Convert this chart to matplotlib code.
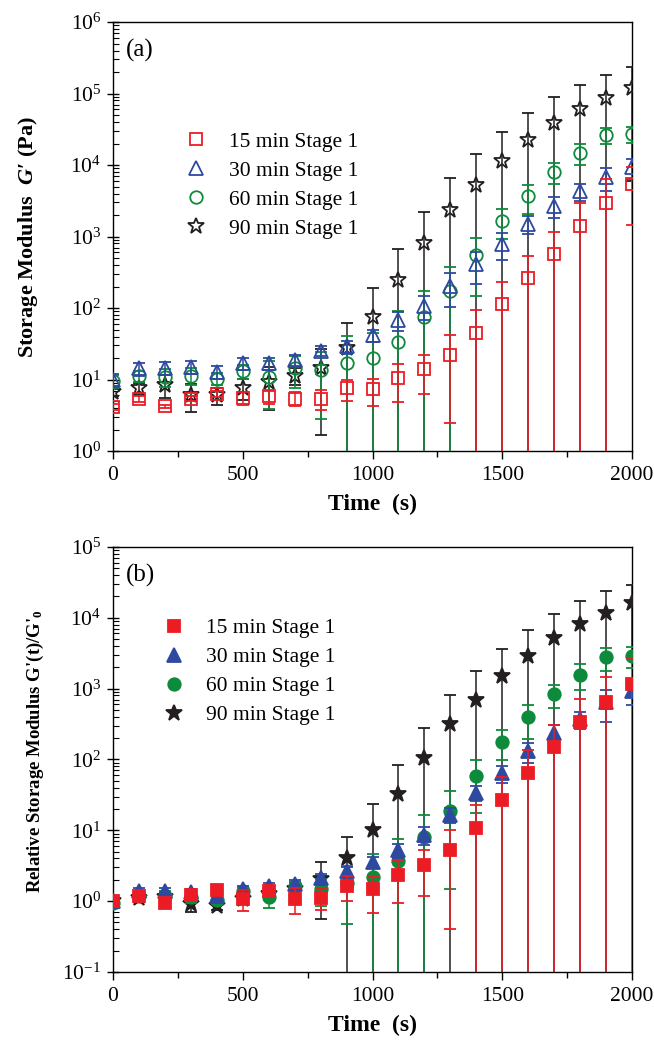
import numpy as np
import matplotlib
matplotlib.use("Agg")
from matplotlib import pyplot as plt
from matplotlib.ticker import LogLocator, MultipleLocator, NullFormatter
from matplotlib.lines import Line2D

plt.rcParams["font.family"] = ["Liberation Serif", "DejaVu Serif"]
plt.rcParams["mathtext.fontset"] = "custom"
plt.rcParams["mathtext.rm"] = "Liberation Serif"
plt.rcParams["mathtext.it"] = "Liberation Serif:italic:bold"
plt.rcParams["mathtext.bf"] = "Liberation Serif:bold"

time_s = np.arange(0, 2001, 100)
series_labels = ["15 min Stage 1", "30 min Stage 1", "60 min Stage 1", "90 min Stage 1"]

# (a) storage modulus G' (Pa), mean and standard deviation
g15 = [4.1, 5.4, 4.2, 5.4, 6.3, 5.6, 5.8, 5.4, 5.4, 7.5, 7.3, 10.6, 14, 22, 45,
       113, 260, 570, 1410, 2900, 5460]
g15_sd = [0.4, 0.5, 0.2, 0.4, 0.6, 1.2, 1.2, 1.2, 1.7, 2.5, 3.0, 5.8, 7.8, 19.5,
          48, 115, 270, 600, 1540, 3500, 4000]
g30 = [10, 14.3, 14.6, 15, 12.8, 16.8, 16.8, 18.7, 25.4, 29, 42, 67, 107, 205,
       415, 795, 1490, 2700, 4300, 6760, 9300]
g30_sd = [2, 3, 3, 3, 2.5, 3, 3, 3, 4, 6, 8, 20, 40, 100, 200, 325, 420, 900,
          1150, 2400, 3000]
g60 = [9.6, 11.3, 10.9, 11.3, 10.3, 13.1, 10.9, 14.3, 13.6, 17.2, 20.3, 34, 75,
       174, 556, 1660, 3660, 7960, 14760, 26700, 27500]
g60_sd = [2, 2, 3, 3, 2, 3, 7, 6.8, 10.8, 23, 24, 57, 100, 206, 410, 750, 1600,
          2600, 4800, 6700, 7000]
g90 = [6.8, 7.5, 8.5, 6.1, 6.0, 7.6, 9.3, 11.3, 14.3, 28, 75, 249, 813, 2375,
       5340, 11380, 22200, 39000, 60200, 85900, 119000]
g90_sd = [1, 1.5, 3, 2.6, 1.6, 2.5, 5.6, 3, 12.6, 34, 115, 430, 1400, 4260, 8800,
          17800, 31800, 49700, 72000, 93000, 113000]

# (b) relative storage modulus G'(t)/G'0
r15 = [1.0, 1.18, 0.95, 1.24, 1.43, 1.08, 1.38, 1.08, 1.11, 1.63, 1.46, 2.37,
       3.2, 5.3, 10.8, 27, 64, 149, 334, 641, 1164]
r15_sd = [0.1, 0.15, 0.1, 0.15, 0.2, 0.36, 0.25, 0.43, 0.37, 0.63, 0.77, 1.44,
          2.0, 4.9, 12, 30, 70, 160, 380, 800, 1470]
r30 = [1.0, 1.38, 1.38, 1.34, 1.18, 1.46, 1.63, 1.77, 2.13, 2.65, 3.54, 5.3, 8.7,
       16.6, 34, 64, 130, 236, 372, 641, 937]
r30_sd = [0.1, 0.15, 0.15, 0.15, 0.15, 0.2, 0.2, 0.25, 0.3, 0.4, 0.6, 1.2, 2.5,
          4, 8, 18, 40, 70, 100, 300, 350]
r60 = [0.95, 1.18, 1.18, 1.15, 1.05, 1.38, 1.14, 1.63, 1.46, 1.81, 2.2, 3.66,
       7.97, 18.5, 57.6, 179, 393, 841, 1580, 2770, 2930]
r60_sd = [0.1, 0.15, 0.2, 0.2, 0.15, 0.2, 0.35, 0.25, 0.6, 1.33, 2.5, 4, 8.6, 17,
          40, 80, 200, 300, 630, 1000, 1000]
r90 = [1.0, 1.1, 1.15, 0.9, 0.85, 1.08, 1.28, 1.5, 2.06, 4.0, 10.0, 32.8, 104,
       316, 692, 1528, 2930, 5150, 8050, 11770, 16130]
r90_sd = [0.05, 0.12, 0.2, 0.2, 0.1, 0.15, 0.2, 0.3, 1.5, 4.1, 13.8, 51, 173, 500,
          1070, 2100, 3830, 6000, 9000, 11800, 13200]

colors = ["#ec1c24", "#2e49a0", "#0e8a3c", "#231f20"]
markers = ["s", "^", "o", "*"]
sizes = [8.5, 9.5, 9, 12]

fig = plt.figure(figsize=(6.54, 10.4), dpi=100)
ax1 = fig.add_axes([0.1728, 0.5663, 0.7936, 0.4125])
ax2 = fig.add_axes([0.1728, 0.0654, 0.7936, 0.4087])


def draw_panel(ax, means, sds, filled, leg_anchor):
    for i in [3, 2, 1, 0]:
        face = colors[i] if filled else "none"
        ax.errorbar(time_s, means[i], yerr=sds[i], fmt=markers[i],
                    color=colors[i], mfc=face, mec=colors[i], ms=sizes[i],
                    mew=1.3, elinewidth=1.1, capsize=4, capthick=1.1,
                    zorder=3 + (3 - i))
    handles = [Line2D([], [], ls="none", marker=markers[i], ms=sizes[i],
                      mfc=colors[i] if filled else "none", mec=colors[i],
                      mew=1.3) for i in range(4)]
    ax.legend(handles, series_labels, loc="upper left",
              bbox_to_anchor=leg_anchor, frameon=False, fontsize=15.5,
              handlelength=1.0, handletextpad=1.0, labelspacing=0.42,
              borderaxespad=0)
    ax.set_yscale("log")
    ax.set_xlim(0, 2000)
    ax.xaxis.set_major_locator(MultipleLocator(500))
    ax.xaxis.set_minor_locator(MultipleLocator(250))
    ax.yaxis.set_major_locator(LogLocator(base=10, numticks=20))
    ax.yaxis.set_minor_locator(LogLocator(base=10, subs=np.arange(2, 10), numticks=50))
    ax.yaxis.set_minor_formatter(NullFormatter())
    ax.tick_params(axis="x", which="major", direction="out", length=6, width=1,
                   labelsize=15.5, pad=5)
    ax.tick_params(axis="x", which="minor", direction="out", length=4, width=1)
    ax.tick_params(axis="y", which="major", direction="inout", length=9, width=1,
                   labelsize=15.5, pad=4)
    ax.tick_params(axis="y", which="minor", direction="in", length=4, width=0.8)
    for sp in ax.spines.values():
        sp.set_linewidth(1.0)
    ax.set_xlabel("Time  (s)", fontsize=17, fontweight="bold", labelpad=6)


draw_panel(ax1, [g15, g30, g60, g90], [g15_sd, g30_sd, g60_sd, g90_sd], False,
           (0.123, 0.765))
ax1.set_ylim(1, 1e6)
ax1.set_ylabel(r"Storage Modulus  $G$′ (Pa)", fontsize=16, fontweight="bold")
ax1.yaxis.set_label_coords(-0.14, 0.5)
ax1.text(0.024, 0.96, "(a)", transform=ax1.transAxes, fontsize=18,
         va="top", ha="left")

draw_panel(ax2, [r15, r30, r60, r90], [r15_sd, r30_sd, r60_sd, r90_sd], True,
           (0.08, 0.853))
ax2.set_ylim(0.1, 1e5)
ax2.set_ylabel(r"Relative Storage Modulus G'(t)/G'$_\mathbf{0}$", fontsize=13.5,
               fontweight="bold")
ax2.yaxis.set_label_coords(-0.13, 0.52)
ax2.text(0.024, 0.96, "(b)", transform=ax2.transAxes, fontsize=18,
         va="top", ha="left")

fig.savefig("out.png", dpi=100)
